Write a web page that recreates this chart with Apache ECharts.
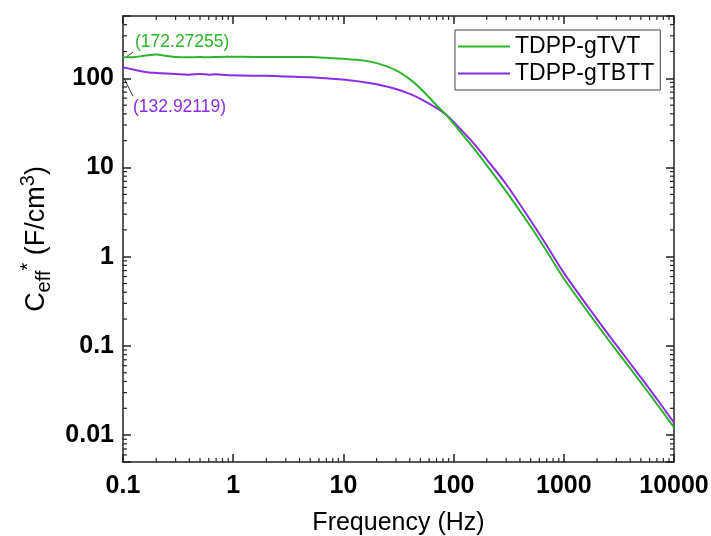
<!DOCTYPE html>
<html>
<head>
<meta charset="utf-8">
<script src="https://cdn.jsdelivr.net/npm/echarts@6/dist/echarts.min.js"></script>
<style>
  html, body { margin: 0; padding: 0; background: #fff; }
  #chart { width: 711px; height: 536px; }
</style>
</head>
<body>
<div id="chart"></div>
<script>
// 频率 (Hz)
var freq = [0.1, 0.13, 0.16, 0.2, 0.25, 0.3, 0.4, 0.5, 0.6, 0.7, 0.85, 1, 1.5, 2, 3, 5, 7, 10, 15, 20,
  30, 40, 50, 70, 86.5, 100, 150, 200, 300, 500, 700, 1000, 2000, 3000, 5000, 7000, 10000]
// TDPP-gTVT
var gTVT = [172.27, 174, 180, 185, 178, 173, 172, 173, 172, 174, 175, 175, 174, 174, 174, 173, 170, 166, 159, 148,
  123, 98, 77, 50, 38.5, 31, 16.8, 10.6, 5.4, 2.18, 1.15, 0.57, 0.174, 0.089, 0.039, 0.0223, 0.0122]
// TDPP-gTBTT
var gTBTT = [132.92, 124, 118, 115, 113, 112, 110, 112, 110, 111, 109, 108, 107, 107, 105, 103, 100, 97, 91, 86,
  76, 67, 59, 46.5, 38.5, 32.5, 19, 12.3, 6.5, 2.55, 1.34, 0.66, 0.2, 0.102, 0.0445, 0.0254, 0.0138]
var seriesNames = ['TDPP-gTVT', 'TDPP-gTBTT']
var annoG = '(172.27255)'
var annoP = '(132.92119)'

var GREEN = '#2bb52b'
var PURPLE = '#8a2be6'
var FONT = 'Liberation Sans, Arial, sans-serif'

function pairs(xs, ys) {
  return xs.map(function (x, i) { return [x, ys[i]] })
}

// 只显示整十倍数的刻度标签
function decadeLabel(v) {
  var l = Math.log10(v)
  var e = Math.round(l)
  if (Math.abs(l - e) > 1e-6) return ''
  return e < 0 ? Math.pow(10, e).toFixed(-e) : String(Math.pow(10, e))
}

function axisBase(min, max) {
  return {
    type: 'log',
    logBase: 10,
    min: min,
    max: max,
    axisLine: { show: true, lineStyle: { color: '#222', width: 1.5 } },
    axisTick: { show: true, inside: true, length: 8, lineStyle: { color: '#222', width: 1.5 } },
    minorTick: { show: false },
    splitLine: { show: false },
    axisLabel: { show: false }
  }
}

var xBottom = axisBase(0.1, 10000)
xBottom.position = 'bottom'
xBottom.axisLabel = {
  show: true, margin: 12, color: '#000', fontFamily: FONT, fontSize: 25, fontWeight: 'bold',
  formatter: decadeLabel
}
xBottom.name = 'Frequency (Hz)'
xBottom.nameLocation = 'middle'
xBottom.nameGap = 49
xBottom.nameTextStyle = { color: '#000', fontFamily: FONT, fontSize: 25 }

var xTop = axisBase(0.1, 10000)
xTop.position = 'top'

var yLeft = axisBase(0.005, 500)
yLeft.position = 'left'
yLeft.axisLabel = {
  show: true, margin: 9, color: '#000', fontFamily: FONT, fontSize: 25, fontWeight: 'bold',
  formatter: decadeLabel
}
yLeft.name = '{b|C}{sub|eff}{sup|*}{b| (F/cm}{sup|3}{b|)}'
yLeft.nameLocation = 'middle'
yLeft.nameGap = 53
yLeft.nameTextStyle = {
  color: '#000', fontFamily: FONT,
  rich: {
    b: { fontSize: 27, fontFamily: FONT, color: '#000', lineHeight: 36 },
    sub: { fontSize: 20, fontFamily: FONT, color: '#000', verticalAlign: 'bottom', lineHeight: 20 },
    sup: { fontSize: 20, fontFamily: FONT, color: '#000', verticalAlign: 'top', lineHeight: 20 }
  }
}

var yRight = axisBase(0.005, 500)
yRight.position = 'right'

var chart = echarts.init(document.getElementById('chart'))
chart.setOption({
  animation: false,
  backgroundColor: '#fff',
  textStyle: { fontFamily: FONT },
  grid: { left: 123, right: 37, top: 16, bottom: 74, containLabel: false, outerBoundsMode: 'none' },
  legend: {
    left: 455,
    top: 30,
    orient: 'vertical',
    data: seriesNames,
    icon: 'rect',
    itemWidth: 52,
    itemHeight: 2,
    itemGap: 4,
    padding: [5, 6, 5, 3],
    borderColor: '#444',
    borderWidth: 1,
    backgroundColor: '#fff',
    textStyle: { color: '#000', fontFamily: FONT, fontSize: 23 }
  },
  xAxis: [xBottom, xTop],
  yAxis: [yLeft, yRight],
  series: [
    {
      name: seriesNames[0], type: 'line', xAxisIndex: 0, yAxisIndex: 0,
      data: pairs(freq, gTVT), symbol: 'none', smooth: 0.3,
      lineStyle: { color: GREEN, width: 2 }, itemStyle: { color: GREEN }, z: 3
    },
    {
      name: seriesNames[1], type: 'line', xAxisIndex: 0, yAxisIndex: 0,
      data: pairs(freq, gTBTT), symbol: 'none', smooth: 0.3,
      lineStyle: { color: PURPLE, width: 2 }, itemStyle: { color: PURPLE }, z: 2
    }
  ]
})

// 次刻度 (2..9) 以及数据注释，位置全部通过坐标轴换算
var g = []
var x0 = chart.convertToPixel({ xAxisIndex: 0 }, 0.1)
var x1 = chart.convertToPixel({ xAxisIndex: 0 }, 10000)
var yTop = chart.convertToPixel({ yAxisIndex: 0 }, 500)
var yBot = chart.convertToPixel({ yAxisIndex: 0 }, 0.005)
var tickStyle = { stroke: '#222', lineWidth: 1.2 }
var m, d, v, p
for (d = -2; d <= 4; d++) {
  for (m = 2; m <= 9; m++) {
    v = m * Math.pow(10, d)
    if (v > 0.1 && v < 10000) {
      p = chart.convertToPixel({ xAxisIndex: 0 }, v)
      g.push({ type: 'line', shape: { x1: p, y1: yBot, x2: p, y2: yBot - 4 }, style: tickStyle, silent: true })
      g.push({ type: 'line', shape: { x1: p, y1: yTop, x2: p, y2: yTop + 4 }, style: tickStyle, silent: true })
    }
  }
}
for (d = -3; d <= 2; d++) {
  for (m = 2; m <= 9; m++) {
    v = m * Math.pow(10, d)
    if (v > 0.005 && v < 500) {
      p = chart.convertToPixel({ yAxisIndex: 0 }, v)
      g.push({ type: 'line', shape: { x1: x0, y1: p, x2: x0 + 4, y2: p }, style: tickStyle, silent: true })
      g.push({ type: 'line', shape: { x1: x1, y1: p, x2: x1 - 4, y2: p }, style: tickStyle, silent: true })
    }
  }
}

var pg = chart.convertToPixel({ xAxisIndex: 0, yAxisIndex: 0 }, [freq[0], gTVT[0]])
var pp = chart.convertToPixel({ xAxisIndex: 0, yAxisIndex: 0 }, [freq[0], gTBTT[0]])
var leader = { stroke: '#333', lineWidth: 1 }
g.push({ type: 'line', shape: { x1: pg[0] + 4, y1: pg[1] - 1, x2: pg[0] + 10, y2: pg[1] - 5 }, style: leader, z: 10 })
g.push({
  type: 'text', x: pg[0] + 12, y: pg[1] - 15, z: 10,
  style: { text: annoG, fill: GREEN, font: '17.5px ' + FONT, textVerticalAlign: 'middle', verticalAlign: 'middle' }
})
g.push({ type: 'line', shape: { x1: pp[0] + 1, y1: pp[1] + 11, x2: pp[0] + 10, y2: pp[1] + 29 }, style: leader, z: 10 })
g.push({
  type: 'text', x: pp[0] + 10, y: pp[1] + 40, z: 10,
  style: { text: annoP, fill: PURPLE, font: '17.5px ' + FONT, textVerticalAlign: 'middle', verticalAlign: 'middle' }
})

chart.setOption({ graphic: g })
</script>
</body>
</html>
